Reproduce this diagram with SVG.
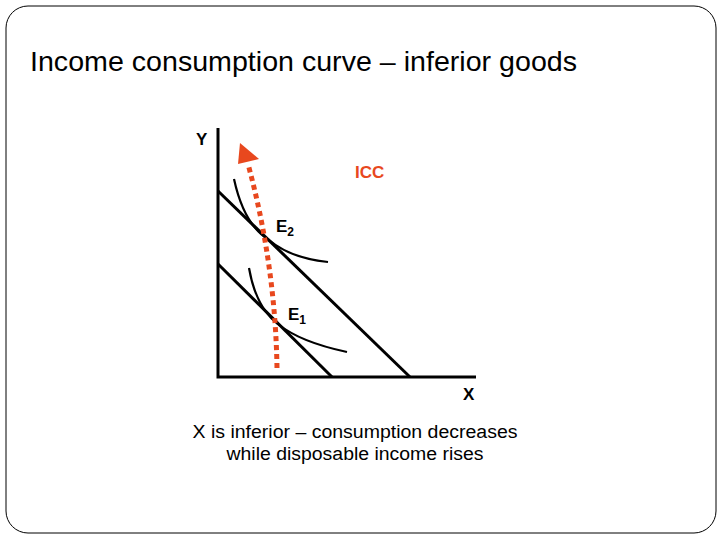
<svg xmlns="http://www.w3.org/2000/svg" width="720" height="540" viewBox="0 0 720 540">
<style>
.ax{stroke:#000;stroke-width:3;fill:none}
.bl{stroke:#000;stroke-width:3;fill:none}
.ic{stroke:#000;stroke-width:2.2;fill:none}
.lab{font-family:"Liberation Sans",Arial,sans-serif;font-weight:bold;font-size:17px;fill:#000}
.cap{font-family:"Liberation Sans",Arial,sans-serif;font-size:18px;fill:#000}
</style>
<rect x="0" y="0" width="720" height="540" fill="#fff"/>
<rect x="6" y="6" width="710" height="527" rx="22" ry="22" fill="#fff" stroke="#000" stroke-width="1"/>
<text x="30" y="71" font-family="Liberation Sans,Arial,sans-serif" font-size="28" textLength="547" lengthAdjust="spacingAndGlyphs">Income consumption curve – inferior goods</text>
<g id="axes">
<path class="ax" d="M218,128 V377 H476"/>
<text class="lab" x="196" y="145">Y</text>
<text class="lab" x="463" y="400">X</text>
</g>
<g id="connectors">
<line id="budget2" class="bl" x1="218" y1="191" x2="410" y2="377"/>
<line id="budget1" class="bl" x1="218" y1="264" x2="332" y2="377"/>
<path id="ic2" class="ic" d="M234,179 Q244,225 269,240 Q290,258 328,262"/>
<path id="ic1" class="ic" d="M249,268 Q256,308 278,324 Q300,342 347,352"/>
<path id="icc" d="M277,368 C276,300 266,230 248,164" fill="none" stroke="#E8481E" stroke-width="5" stroke-dasharray="5,4"/>
<polygon points="240,143 259,159 238,164" fill="#E8481E"/>
</g>
<g id="labels">
<text class="lab" x="355" y="178" style="fill:#E8481E">ICC</text>
<text class="lab" x="276" y="232" font-size="18">E<tspan font-size="12" dy="4">2</tspan></text>
<text class="lab" x="288" y="320" font-size="18">E<tspan font-size="12" dy="4">1</tspan></text>
</g>
<g id="caption">
<text class="cap" x="355" y="438" text-anchor="middle" textLength="325" lengthAdjust="spacingAndGlyphs">X is inferior – consumption decreases</text>
<text class="cap" x="355" y="460" text-anchor="middle" textLength="257" lengthAdjust="spacingAndGlyphs">while disposable income rises</text>
</g>
</svg>
